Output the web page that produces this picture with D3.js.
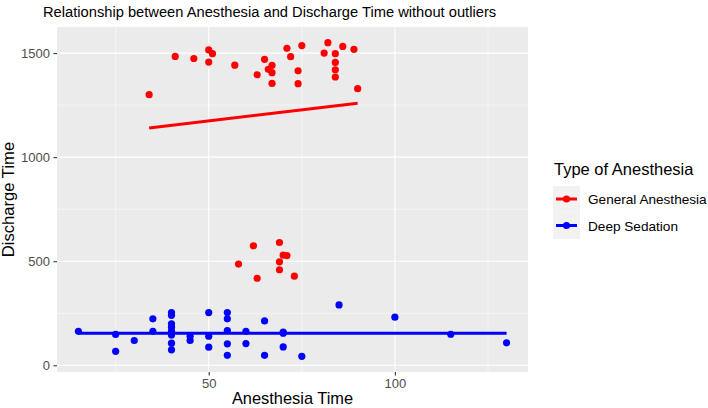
<!DOCTYPE html>
<html><head><meta charset="utf-8">
<script src="https://cdn.jsdelivr.net/npm/d3@7"></script>
<style>body{margin:0;background:#fff;} text{font-family:"Liberation Sans",Arial,sans-serif;}</style>
</head><body><svg id="c" width="708" height="408"></svg>
<script>
// General Anesthesia (red)
const gaTime = [34,41,46,50,51,50,57,65,63,67,66,67,67,71,72,75,74,74,82,81,84,86,84,84,84,89,90,
                62,69,58,63,70,71,69,69,73];
const gaDischarge = [1300,1484,1474,1515,1497,1457,1442,1470,1396,1441,1422,1406,1354,1523,1483,1536,1415,1353,1550,1500,1497,1532,1455,1420,1385,1518,1329,
                574,590,486,418,529,527,497,459,428];
// Deep Sedation (blue)
const dsTime = [15,25,25,30,35,35,40,40,40,40,40,40,40,40,45,45,50,50,50,55,55,55,55,55,60,60,65,65,70,70,70,75,85,100,115,130];
const dsDischarge = [163,148,67,119,223,163,253,240,199,183,163,146,106,74,140,119,253,140,87,253,223,167,103,48,163,104,213,48,159,154,88,43,290,231,149,108];
const groups = ["General Anesthesia","Deep Sedation"];
const colors = ["#FF0000","#0000FF"];
const xTicks = [50,100];
const yTicks = [0,500,1000,1500];
const xMinor = [25,75,125];
const yMinor = [250,750,1250];

const svg = d3.select("#c");
const L=57,R=528,T=27,B=372;
const allX = gaTime.concat(dsTime), allY = gaDischarge.concat(dsDischarge);
const xe = d3.extent(allX), ye = d3.extent(allY);
const xp=(xe[1]-xe[0])*0.05, yp=(ye[1]-ye[0])*0.05;
const x = d3.scaleLinear().domain([xe[0]-xp,xe[1]+xp]).range([L,R]);
const y = d3.scaleLinear().domain([ye[0]-yp,ye[1]+yp]).range([B,T]);

svg.append("rect").attr("x",L).attr("y",T).attr("width",R-L).attr("height",B-T).attr("fill","#EBEBEB");
const g = svg.append("g");
xMinor.forEach(v=>g.append("line").attr("x1",x(v)).attr("x2",x(v)).attr("y1",T).attr("y2",B).attr("stroke","#fff").attr("stroke-width",0.55));
yMinor.forEach(v=>g.append("line").attr("y1",y(v)).attr("y2",y(v)).attr("x1",L).attr("x2",R).attr("stroke","#fff").attr("stroke-width",0.55));
xTicks.forEach(v=>g.append("line").attr("x1",x(v)).attr("x2",x(v)).attr("y1",T).attr("y2",B).attr("stroke","#fff").attr("stroke-width",1.1));
yTicks.forEach(v=>g.append("line").attr("y1",y(v)).attr("y2",y(v)).attr("x1",L).attr("x2",R).attr("stroke","#fff").attr("stroke-width",1.1));

// axes
const fmt = d3.format("d");
const xa = svg.append("g").attr("transform",`translate(0,${B})`).call(d3.axisBottom(x).tickValues(xTicks).tickFormat(fmt).tickSize(3.5).tickPadding(3.5));
const ya = svg.append("g").attr("transform",`translate(${L},0)`).call(d3.axisLeft(y).tickValues(yTicks).tickFormat(fmt).tickSize(3.5).tickPadding(3.5));
[xa,ya].forEach(a=>{a.select(".domain").remove();a.selectAll("line").attr("stroke","#333").attr("stroke-width",1.1);
  a.selectAll("text").attr("fill","#4D4D4D").style("font-size","13px").style("font-family","Liberation Sans, Arial, sans-serif");});

function fit(xs,ys){const mx=d3.mean(xs),my=d3.mean(ys);let sxy=0,sxx=0;xs.forEach((v,i)=>{sxy+=(v-mx)*(ys[i]-my);sxx+=(v-mx)*(v-mx);});const b=sxy/sxx;return [b,my-b*mx];}
const data=[[gaTime,gaDischarge],[dsTime,dsDischarge]];
data.forEach((d,k)=>{
  d[0].forEach((v,i)=>svg.append("circle").attr("cx",x(v)).attr("cy",y(d[1][i])).attr("r",3.6).attr("fill",colors[k]));
});
data.forEach((d,k)=>{
  const [b,a]=fit(d[0],d[1]); const e=d3.extent(d[0]);
  svg.append("line").attr("x1",x(e[0])).attr("x2",x(e[1])).attr("y1",y(a+b*e[0])).attr("y2",y(a+b*e[1])).attr("stroke",colors[k]).attr("stroke-width",3);
});

svg.append("text").attr("x",43).attr("y",17).style("font-size","14.7px").attr("fill","#000").text("Relationship between Anesthesia and Discharge Time without outliers");
svg.append("text").attr("x",(L+R)/2).attr("y",404.3).attr("text-anchor","middle").style("font-size","16.4px").text("Anesthesia Time");
svg.append("text").attr("transform",`translate(14,${(T+B)/2}) rotate(-90)`).attr("text-anchor","middle").style("font-size","16.6px").text("Discharge Time");

// legend
svg.append("text").attr("x",554).attr("y",175).style("font-size","16.5px").text("Type of Anesthesia");
groups.forEach((gname,k)=>{
  const cy=199+k*26.5;
  svg.append("rect").attr("x",553).attr("y",cy-13).attr("width",27).attr("height",26.5).attr("fill","#F2F2F2");
  svg.append("line").attr("x1",556).attr("x2",577).attr("y1",cy).attr("y2",cy).attr("stroke",colors[k]).attr("stroke-width",3);
  svg.append("circle").attr("cx",566.5).attr("cy",cy).attr("r",3.6).attr("fill",colors[k]);
  svg.append("text").attr("x",588).attr("y",cy+5).style("font-size","13.6px").attr("fill","#000").text(gname);
});
</script></body></html>
